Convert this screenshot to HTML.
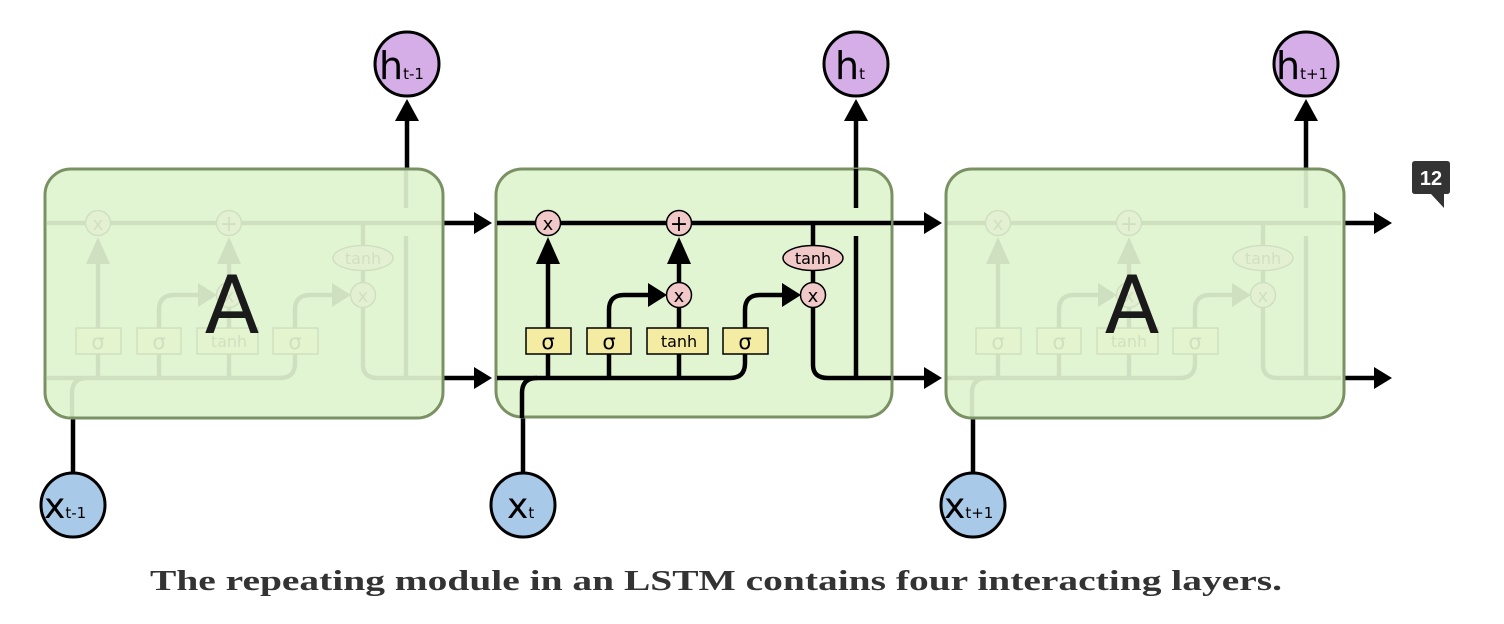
<!DOCTYPE html>
<html><head><meta charset="utf-8"><style>
html,body{margin:0;padding:0;background:#fff;}
svg{display:block;}
</style></head><body>
<svg width="1504" height="624" viewBox="0 0 1504 624" xmlns="http://www.w3.org/2000/svg" font-family="DejaVu Sans, Liberation Sans, sans-serif">
<defs>
<g id="cell">
  <g fill="none" stroke="#000" stroke-width="4.5">
    <path d="M497 223 H891"/>
    <path d="M497 378 H730 Q745 378 745 363 V354"/>
    <path d="M522 418 V393 Q522 378 537 378"/>
    <path d="M548 378 V354 M548 328 V262"/>
    <path d="M609 378 V354 M609 328 V310 Q609 295 624 295 H652"/>
    <path d="M679 378 V354 M679 328 V307 M679 283 V262"/>
    <path d="M745 328 V310 Q745 295 760 295 H788"/>
    <path d="M813 223 V246 M813 270 V283 M813 307 V365 Q813 378 828 378 H891"/>
    <path d="M856 378 V236 M856 208 V169"/>
  </g>
  <g fill="#000">
    <polygon points="548,237 536,264 560,264"/>
    <polygon points="679,237 667,264 691,264"/>
    <polygon points="667,295 648,283 648,307"/>
    <polygon points="801,295 782,283 782,307"/>
  </g>
  <g stroke="#000" stroke-width="1.5">
    <rect x="526" y="328" width="45" height="26" fill="#f4eca2"/>
    <rect x="587" y="328" width="44" height="26" fill="#f4eca2"/>
    <rect x="647" y="328" width="61" height="26" fill="#f4eca2"/>
    <rect x="723" y="328" width="45" height="26" fill="#f4eca2"/>
    <circle cx="548" cy="223" r="12.5" fill="#f2c9c9"/>
    <circle cx="679" cy="223" r="12.5" fill="#f2c9c9"/>
    <circle cx="679" cy="295" r="12.5" fill="#f2c9c9"/>
    <circle cx="813" cy="295" r="12.5" fill="#f2c9c9"/>
    <ellipse cx="813" cy="258" rx="30" ry="12.5" fill="#f2c9c9"/>
  </g>
  <g font-size="21" text-anchor="middle" fill="#000">
    <text x="548" y="349">σ</text>
    <text x="609" y="349">σ</text>
    <text x="745" y="349">σ</text>
    <text x="679" y="347" font-size="16">tanh</text>
    <text x="813" y="264" font-size="16">tanh</text>
    <text x="548" y="230" font-size="18">x</text>
    <text x="679" y="302" font-size="18">x</text>
    <text x="813" y="302" font-size="18">x</text>
    <text x="679" y="231" font-size="22">+</text>
  </g>
</g>
</defs>

<g stroke="#000" stroke-width="4.5" fill="none">
  <path d="M443 223 H476 M443 378 H476 M892 223 H926 M892 378 H926 M1344 223 H1376 M1344 378 H1376"/>
  <path d="M407 169 V118 M856 169 V118 M1306 169 V118"/>
  <path d="M73 418 V473 M523 418 V473 M973 418 V473"/>
</g>
<g fill="#000">
  <polygon points="492,223 474,212 474,234"/><polygon points="492,378 474,367 474,389"/>
  <polygon points="942,223 924,212 924,234"/><polygon points="942,378 924,367 924,389"/>
  <polygon points="1392,223 1374,212 1374,234"/><polygon points="1392,378 1374,367 1374,389"/>
  <polygon points="407,99 395,121 419,121"/><polygon points="856,99 844,121 868,121"/><polygon points="1306,99 1294,121 1318,121"/>
</g>

<rect x="45" y="169" width="398" height="249" rx="26" fill="#e2f5d3"/>
<g opacity="0.08"><use href="#cell" transform="translate(-450,0)"/></g>
<rect x="45" y="169" width="398" height="249" rx="26" fill="none" stroke="#7a9163" stroke-width="3"/>
<text x="232" y="333" font-size="80" text-anchor="middle" fill="#1a1a1a">A</text>

<rect x="496" y="169" width="396" height="248" rx="26" fill="#e2f5d3" stroke="#7a9163" stroke-width="3"/>
<use href="#cell"/>

<rect x="946" y="169" width="398" height="249" rx="26" fill="#e2f5d3"/>
<g opacity="0.08"><use href="#cell" transform="translate(450,0)"/></g>
<rect x="946" y="169" width="398" height="249" rx="26" fill="none" stroke="#7a9163" stroke-width="3"/>
<text x="1132" y="333" font-size="80" text-anchor="middle" fill="#1a1a1a">A</text>

<g stroke="#000" stroke-width="3">
  <circle cx="407" cy="64" r="32" fill="#d5aee8"/>
  <circle cx="856" cy="64" r="32" fill="#d5aee8"/>
  <circle cx="1306" cy="64" r="32" fill="#d5aee8"/>
  <circle cx="73" cy="505" r="32" fill="#a9c9e8"/>
  <circle cx="523" cy="505" r="32" fill="#a9c9e8"/>
  <circle cx="973" cy="505" r="32" fill="#a9c9e8"/>
</g>
<g fill="#000">
  <text x="379" y="79" font-size="38">h<tspan font-size="15">t-1</tspan></text>
  <text x="835" y="79" font-size="38">h<tspan font-size="15">t</tspan></text>
  <text x="1276" y="79" font-size="38">h<tspan font-size="15">t+1</tspan></text>
  <text x="44" y="518" font-size="36">x<tspan font-size="15">t-1</tspan></text>
  <text x="507" y="518" font-size="36">x<tspan font-size="15">t</tspan></text>
  <text x="944" y="518" font-size="36">x<tspan font-size="15">t+1</tspan></text>
</g>

<path d="M1415 161 H1447 Q1450 161 1450 164 V191 Q1450 194 1447 194 H1444 V208 L1431 194 H1415 Q1412 194 1412 191 V164 Q1412 161 1415 161 Z" fill="#333"/>
<text x="1431" y="185" font-size="20" font-weight="bold" text-anchor="middle" fill="#fff" font-family="Liberation Sans, sans-serif">12</text>

<text x="150" y="590" font-size="28" font-weight="bold" fill="#333" font-family="Liberation Serif, serif" textLength="1132" lengthAdjust="spacingAndGlyphs">The repeating module in an LSTM contains four interacting layers.</text>
</svg>
</body></html>
